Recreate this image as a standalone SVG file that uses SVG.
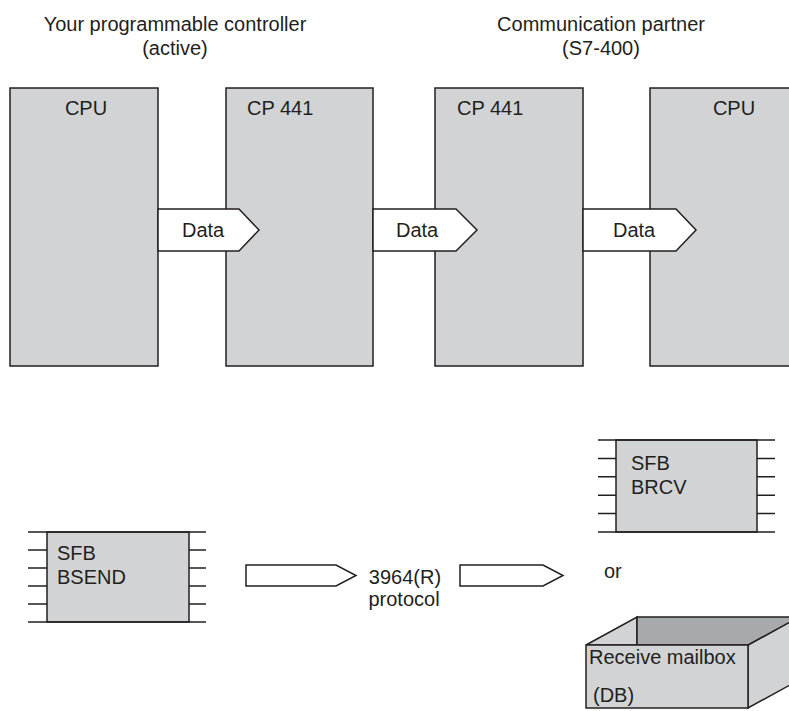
<svg xmlns="http://www.w3.org/2000/svg" width="789" height="711" viewBox="0 0 789 711">
<style>
text{font-family:"Liberation Sans",Arial,sans-serif;font-size:20px;fill:#231f20}
.box{fill:#d1d3d4;stroke:#231f20;stroke-width:1.5}
.arr{fill:#ffffff;stroke:#231f20;stroke-width:1.5;stroke-linejoin:miter}
.pin{stroke:#231f20;stroke-width:1.5;fill:none}
.dark{fill:#a7a9ac;stroke:#231f20;stroke-width:1.5}
.mid{text-anchor:middle}
</style>
<g id="header-left">
<text class="mid" x="175" y="31">Your programmable controller</text>
<text class="mid" x="175" y="55">(active)</text>
</g>
<g id="header-right">
<text class="mid" x="601" y="31">Communication partner</text>
<text class="mid" x="601" y="55">(S7-400)</text>
</g>
<g id="cpu1"><rect class="box" x="10" y="88" width="148" height="278"/><text class="mid" x="86" y="115">CPU</text></g>
<g id="cp441a"><rect class="box" x="226" y="88" width="147" height="278"/><text x="247" y="115">CP 441</text></g>
<g id="cp441b"><rect class="box" x="435" y="88" width="148" height="278"/><text x="457" y="115">CP 441</text></g>
<g id="cpu2"><rect class="box" x="650" y="88" width="160" height="278"/><text class="mid" x="734" y="115">CPU</text></g>
<g id="connectors">
<polygon class="arr" points="158,209 239,209 259,230 239,251 158,251"/>
<text x="182" y="237">Data</text>
<polygon class="arr" points="373,209 456,209 477,230 456,251 373,251"/>
<text x="396" y="237">Data</text>
<polygon class="arr" points="583,209 676,209 696,230 676,251 583,251"/>
<text x="613" y="237">Data</text>
<polygon class="arr" points="246,565 336,565 356,575.5 336,586 246,586"/>
<polygon class="arr" points="460,565 543,565 563,575.5 543,586 460,586"/>
</g>
<g id="protocol-label">
<text class="mid" x="405" y="584">3964(R)</text>
<text class="mid" x="404" y="606">protocol</text>
</g>
<g id="sfb-bsend">
<rect class="box" x="47" y="532" width="142" height="90"/>
<path class="pin" d="M28 532H206M28 550H47M28 568H47M28 586H47M28 604H47M28 622H206M189 550H206M189 568H206M189 586H206M189 604H206"/>
<text x="57" y="560">SFB</text>
<text x="57" y="584">BSEND</text>
</g>
<g id="sfb-brcv">
<rect class="box" x="616" y="440" width="141" height="92"/>
<path class="pin" d="M598 440H775M598 458.4H616M598 476.8H616M598 495.2H616M598 513.6H616M598 532H775M757 458.4H775M757 476.8H775M757 495.2H775M757 513.6H775"/>
<text x="631" y="470">SFB</text>
<text x="631" y="494">BRCV</text>
</g>
<g id="or-label"><text x="604" y="578">or</text></g>
<g id="mailbox">
<polygon class="box" points="748,645 799,617 799,680 748,708"/>
<polygon class="box" points="586,645 637,617 637,645"/>
<polygon class="dark" points="637,617 799,617 748,645 637,645"/>
<rect class="box" x="586" y="645" width="162" height="63"/>
<text x="589" y="664">Receive mailbox</text>
<text x="593" y="702">(DB)</text>
</g>
</svg>
